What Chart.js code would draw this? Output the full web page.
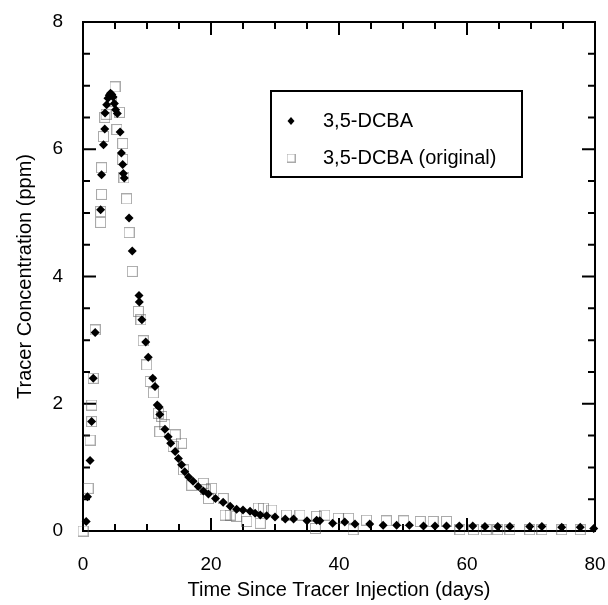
<!DOCTYPE html>
<html>
<head>
<meta charset="utf-8">
<script src="https://cdn.jsdelivr.net/npm/chart.js@4/dist/chart.umd.min.js"></script>
<style>
  html, body { margin: 0; padding: 0; background: #fff; }
  #wrap { width: 608px; height: 605px; }
</style>
</head>
<body>
<div id="wrap"><canvas id="c" width="608" height="605"></canvas></div>
<script>
// 3,5-DCBA breakthrough: time since injection (days) and concentration (ppm)
const dcbaDays = [0.5, 0.7, 1.1, 1.35, 1.6, 1.9, 2.75, 2.9, 3.2, 3.4, 3.45, 3.7, 3.9, 4.1, 4.3, 4.5, 4.7, 4.9, 5.1, 5.36, 5.8, 6.0, 6.2, 6.3, 6.45,
  7.2, 7.7, 8.75, 8.8, 9.2, 9.8, 10.2, 10.9, 11.25, 11.6, 11.9, 12.0, 12.8, 13.3, 13.7, 14.4, 14.9, 15.4, 15.9, 16.5, 17.2, 18.0, 18.8, 19.6,
  20.7, 21.9, 23.0, 24.0, 25.0, 26.1, 26.9, 27.7, 28.7, 30.0, 31.6, 32.9, 35.0, 36.5, 37.0, 39.0, 40.9, 42.5, 44.8, 46.9, 49.0, 51.0,
  53.2, 55.0, 56.8, 58.8, 60.9, 62.8, 64.8, 66.7, 69.8, 71.7, 74.8, 77.7, 79.8];
const dcbaPpm = [0.15, 0.54, 1.11, 1.72, 2.40, 3.12, 5.05, 5.60, 6.07, 6.32, 6.57, 6.70, 6.80, 6.85, 6.88, 6.86, 6.82, 6.72, 6.62, 6.56, 6.27, 5.94, 5.76, 5.62, 5.55,
  4.92, 4.40, 3.70, 3.60, 3.32, 2.97, 2.73, 2.40, 2.27, 1.98, 1.95, 1.83, 1.60, 1.48, 1.38, 1.25, 1.14, 1.04, 0.93, 0.85, 0.78, 0.70, 0.63, 0.58,
  0.51, 0.45, 0.39, 0.34, 0.33, 0.31, 0.28, 0.25, 0.24, 0.22, 0.19, 0.19, 0.16, 0.17, 0.16, 0.12, 0.14, 0.11, 0.11, 0.09, 0.09, 0.09,
  0.08, 0.08, 0.08, 0.08, 0.08, 0.07, 0.07, 0.07, 0.07, 0.07, 0.06, 0.06, 0.04];

// Original 3,5-DCBA record
const origDays = [0.0, 0.8, 1.1, 1.35, 1.35, 1.6, 1.9, 2.75, 2.75, 2.9, 2.9, 3.2, 3.4, 3.6, 4.4, 5.0, 5.3, 5.7, 6.2, 6.2, 6.4, 6.8, 7.2, 7.7,
  8.65, 9.06, 9.4, 9.95, 10.5, 11.0, 11.8, 12.0, 12.3, 12.8, 14.1, 14.4, 15.4, 15.7, 17.0, 18.8, 19.1, 19.6, 20.1, 21.9, 22.2, 23.0, 24.0,
  25.6, 27.4, 27.7, 28.2, 29.5, 31.8, 33.9, 36.3, 36.5, 37.8, 39.9, 41.5, 42.2, 44.3, 47.4, 50.1, 52.7, 54.7, 56.8, 58.9, 61.0, 63.0,
  64.8, 66.7, 69.8, 71.7, 74.8, 77.7];
const origPpm = [0.0, 0.67, 1.43, 1.72, 1.98, 2.40, 3.16, 4.85, 5.02, 5.29, 5.71, 6.20, 6.50, 6.55, 6.75, 6.98, 6.31, 6.58, 6.09, 5.84, 5.55, 5.22, 4.69, 4.08,
  3.45, 3.32, 2.99, 2.61, 2.35, 2.17, 1.85, 1.56, 1.80, 1.67, 1.33, 1.51, 1.38, 0.96, 0.72, 0.75, 0.65, 0.51, 0.67, 0.51, 0.25, 0.25, 0.23,
  0.15, 0.36, 0.12, 0.36, 0.33, 0.25, 0.25, 0.04, 0.23, 0.25, 0.20, 0.20, 0.02, 0.17, 0.16, 0.16, 0.15, 0.15, 0.15, 0.02, 0.02, 0.02,
  0.02, 0.02, 0.02, 0.02, 0.02, 0.02];

const xTicks = [0, 20, 40, 60, 80];
const yTicks = [0, 2, 4, 6, 8];
const seriesNames = ['3,5-DCBA', '3,5-DCBA (original)'];

const FONT = '"Liberation Sans", Arial, Helvetica, sans-serif';

// Open square drawn with a dotted outline
function dottedSquare(size) {
  const c = document.createElement('canvas');
  c.width = size; c.height = size;
  const g = c.getContext('2d');
  g.strokeStyle = '#555';
  g.lineWidth = 1;
  g.setLineDash([1, 1]);
  g.strokeRect(0.5, 0.5, size - 1, size - 1);
  return c;
}
const squareMark = dottedSquare(11);
const squareMarkSmall = dottedSquare(9);

const toPts = (xs, ys) => xs.map((x, i) => ({ x: x, y: ys[i] }));

// Keep the plot box where the axes say, without label overhang padding
function fixPadding(s) {
  s.paddingLeft = 0; s.paddingRight = 0; s.paddingTop = 0; s.paddingBottom = 0;
}

// Box frame with inward major/minor ticks on all four sides
const framePlugin = {
  id: 'frame',
  beforeDatasetsDraw(chart) {
    const { ctx, chartArea: a, scales: { x, y } } = chart;
    ctx.save();
    ctx.strokeStyle = '#000';
    ctx.lineWidth = 2;
    ctx.strokeRect(a.left, a.top, a.right - a.left, a.bottom - a.top);
    const major = 13, minor = 7;
    for (let v = 0; v <= 80; v += 5) {
      const px = x.getPixelForValue(v);
      const len = (v % 20 === 0) ? major : minor;
      ctx.beginPath();
      ctx.moveTo(px, a.bottom); ctx.lineTo(px, a.bottom - len);
      ctx.moveTo(px, a.top); ctx.lineTo(px, a.top + len);
      ctx.stroke();
    }
    for (let v = 0; v <= 8; v += 0.5) {
      const py = y.getPixelForValue(v);
      const len = (v % 2 === 0) ? major : minor;
      ctx.beginPath();
      ctx.moveTo(a.left, py); ctx.lineTo(a.left + len, py);
      ctx.moveTo(a.right, py); ctx.lineTo(a.right - len, py);
      ctx.stroke();
    }
    ctx.restore();
  }
};

// Boxed legend inside the plot area
const boxLegend = {
  id: 'boxLegend',
  afterDraw(chart) {
    const { ctx } = chart;
    const bx = 271, by = 91, bw = 251, bh = 86;
    ctx.save();
    ctx.fillStyle = '#fff';
    ctx.fillRect(bx, by, bw, bh);
    ctx.strokeStyle = '#000';
    ctx.lineWidth = 2;
    ctx.strokeRect(bx, by, bw, bh);
    const rows = [by + 30, by + 67];
    const mx = bx + 20;
    // filled diamond
    ctx.fillStyle = '#000';
    ctx.beginPath();
    ctx.moveTo(mx, rows[0] - 4); ctx.lineTo(mx + 3.5, rows[0]);
    ctx.lineTo(mx, rows[0] + 4); ctx.lineTo(mx - 3.5, rows[0]);
    ctx.closePath(); ctx.fill();
    // dotted square
    ctx.drawImage(squareMarkSmall, mx - 4.5, rows[1] - 4.5);
    ctx.fillStyle = '#000';
    ctx.font = '20px ' + FONT;
    ctx.textBaseline = 'middle';
    ctx.textAlign = 'left';
    ctx.fillText(seriesNames[0], bx + 52, rows[0]);
    ctx.fillText(seriesNames[1], bx + 52, rows[1]);
    ctx.restore();
  }
};

new Chart(document.getElementById('c'), {
  type: 'scatter',
  data: {
    datasets: [
      {
        label: seriesNames[1],
        data: toPts(origDays, origPpm),
        pointStyle: squareMark,
        pointRadius: 5,
        clip: false,
        order: 2
      },
      {
        label: seriesNames[0],
        data: toPts(dcbaDays, dcbaPpm),
        pointStyle: 'rectRot',
        pointRadius: 4.5,
        backgroundColor: '#000',
        borderColor: '#000',
        borderWidth: 0,
        clip: false,
        order: 1
      }
    ]
  },
  options: {
    responsive: false,
    animation: false,
    events: [],
    layout: { padding: { left: 0, right: 13, top: 22, bottom: 0 } },
    plugins: { legend: { display: false }, tooltip: { enabled: false } },
    scales: {
      x: {
        type: 'linear',
        min: 0, max: 80,
        afterBuildTicks: s => { s.ticks = xTicks.map(v => ({ value: v })); },
        afterFit: s => { s.height = 74; fixPadding(s); },
        grid: { display: false, drawTicks: false },
        border: { display: false },
        ticks: { color: '#000', padding: 22, font: { family: FONT, size: 19 }, maxRotation: 0 },
        title: { display: true, text: 'Time Since Tracer Injection (days)', color: '#000',
                 font: { family: FONT, size: 20 }, padding: { top: 0, bottom: 3 } }
      },
      y: {
        type: 'linear',
        min: 0, max: 8,
        afterBuildTicks: s => { s.ticks = yTicks.map(v => ({ value: v })); },
        afterFit: s => { s.width = 83; fixPadding(s); },
        grid: { display: false, drawTicks: false },
        border: { display: false },
        ticks: { color: '#000', padding: 20, font: { family: FONT, size: 19 } },
        title: { display: true, text: 'Tracer Concentration (ppm)', color: '#000',
                 font: { family: FONT, size: 20 }, padding: { top: 13, bottom: 0 } }
      }
    }
  },
  plugins: [framePlugin, boxLegend]
});
</script>
</body>
</html>
